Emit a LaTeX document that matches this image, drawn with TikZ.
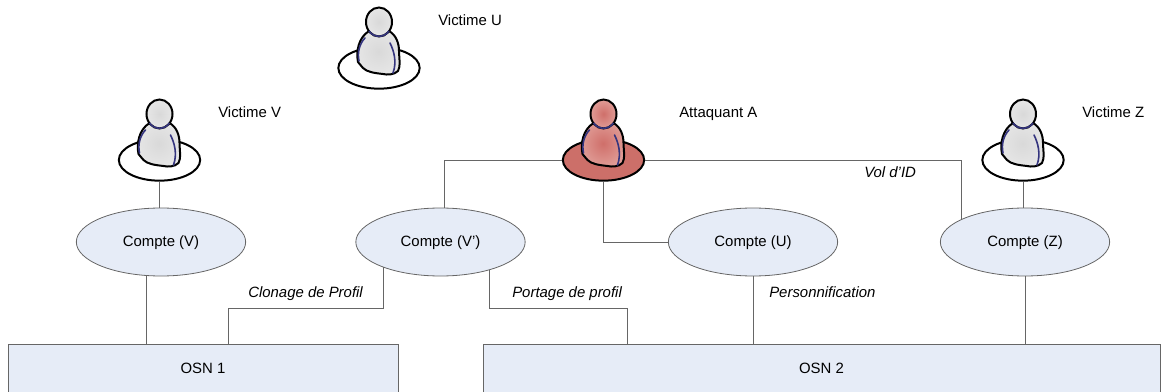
\documentclass[tikz,border=0pt]{standalone}
\usepackage{fontspec}
\setmainfont{Liberation Sans}
\usetikzlibrary{shapes.geometric,calc}
\definecolor{fillblue}{HTML}{E6ECF7}
\definecolor{edgegrey}{HTML}{666666}
\definecolor{redfill}{HTML}{CC6F69}
\definecolor{personblue}{HTML}{34347E}
\definecolor{greyin}{HTML}{D9D9D9}
\definecolor{greyout}{HTML}{E6E6E6}
\definecolor{redin}{HTML}{CF6F6A}
\definecolor{redout}{HTML}{E09C96}
\tikzset{
  x=0.75pt,y=-0.75pt,
  account/.style={ellipse,draw=edgegrey,fill=fillblue,line width=0.6pt,minimum width=127pt,minimum height=51pt,inner sep=0pt,text height=8.5pt,text depth=1.5pt,font=\fontsize{11.2}{13}\selectfont},
  network/.style={rectangle,draw=edgegrey,fill=fillblue,line width=0.6pt,minimum height=36.75pt,inner sep=0pt,font=\fontsize{11.2}{13}\selectfont},
  link/.style={draw=edgegrey,line width=0.6pt},
  caption/.style={inner sep=0pt,anchor=base west,font=\fontsize{11.2}{13}\selectfont},
  rolelabel/.style={inner sep=0pt,anchor=base west,font=\itshape\fontsize{11.2}{13}\selectfont},
  disc/.style={ellipse,draw=black,line width=1.5pt,minimum width=61pt,minimum height=31pt,inner sep=0pt},
  pics/person/.style 2 args={code={
    \path[draw=black,line width=1.5pt,line join=round,inner color=#2,outer color=#1]
      (-21,-6) .. controls (-23,-16) and (-21,-30) .. (-10,-37)
      .. controls (-4,-40) and (4,-40) .. (10,-37)
      .. controls (17,-33) and (20,-25) .. (20,-17)
      .. controls (20,-10) and (22,-2) .. (19,3)
      .. controls (15,7) and (8,7) .. (4,6)
      .. controls (-5,5) and (-12,4) .. (-16,0)
      .. controls (-18,-3) and (-20,-4) .. (-21,-6) -- cycle;
    \draw[personblue,line width=1.2pt,line cap=round] (-14,-30) .. controls (-19,-25) and (-22,-16) .. (-20,-7);
    \draw[personblue,line width=1.2pt,line cap=round] (11,-25) .. controls (15,-17) and (18,-6) .. (14,5);
    \path[draw=black,line width=1.5pt,inner color=#2,outer color=#1] (0,-46) ellipse[x radius=13,y radius=14.5];
    \draw[personblue,line width=1.2pt] (-10,-37) .. controls (-5,-30) and (5,-30) .. (10,-37);
  }}
}
\begin{document}
\begin{tikzpicture}
\useasboundingbox (0,0) rectangle (1163,392);
% discs
\node[disc,fill=white] (dU) at (379,68) {};
\node[disc,fill=white] (dV) at (159.5,160) {};
\node[disc,fill=redfill] (dA) at (603.5,160) {};
\node[disc,fill=white] (dZ) at (1023,160) {};
% accounts and networks
\node[account] (cV) at (161,242) {Compte (V)};
\node[account] (cVp) at (440.5,242) {Compte (V')};
\node[account] (cU) at (753,242) {Compte (U)};
\node[account] (cZ) at (1025,242) {Compte (Z)};
\node[network,minimum width=292.5pt] (osnA) at (203,368.5) {OSN 1};
\node[network,minimum width=507.75pt] (osnB) at (821.5,368.5) {OSN 2};
\coordinate (kA) at (228,308);
\coordinate (kB) at (627,308);
% connectors
\draw[link] (dV.south) -- (dV.south |- cV.north);
\draw[link] (dZ.south) -- (dZ.south |- cZ.north);
\draw[link] (cV.247.3) -- (cV.247.3 |- osnA.north);
\draw[link] (dA.west) -| (cVp.84);
\draw[link] (dA.south) |- (cU.west);
\draw[link] (dA.east) -| (cZ.160.9);
\draw[link] (cVp.204) |- (kA) -- (kA |- osnA.north);
\draw[link] (cVp.-30.6) |- (kB) -- (kB |- osnB.north);
\draw[link] (cU.south) -- (cU.south |- osnB.north);
\draw[link] (cZ.south) -- (cZ.south |- osnB.north);
% persons
\pic at (dU) {person={greyout}{greyin}};
\pic at (dV) {person={greyout}{greyin}};
\pic at (dA) {person={redout}{redin}};
\pic at (dZ) {person={greyout}{greyin}};
% captions
\node[caption] (tU) at (438,26) {Victime U};
\node[caption] (tV) at (218,118) {Victime V};
\node[caption] (tA) at (679,118) {Attaquant A};
\node[caption] (tZ) at (1082,118) {Victime Z};
\node[rolelabel] (lI) at (864,178) {Vol d’ID};
\node[rolelabel] (lC) at (248,297) {Clonage de Profil};
\node[rolelabel] (lP) at (512,297) {Portage de profil};
\node[rolelabel] (lN) at (769,297) {Personnification};
\end{tikzpicture}
\end{document}
